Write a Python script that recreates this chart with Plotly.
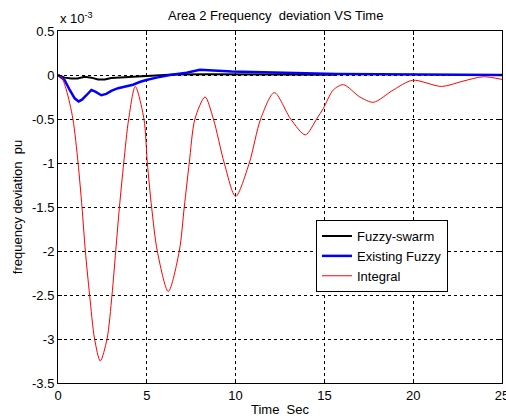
import plotly.graph_objects as go

# Time (s) and frequency deviation (x 1e-3 pu)
t_swarm = [0, 0.37, 0.75, 1.1, 1.5, 1.88, 2.25, 2.63, 3.0, 3.75, 4.43, 5.37, 6.5, 8.4, 10.25, 12.0, 15.7]
v_swarm = [0, -0.03, -0.04, -0.04, -0.02, -0.03, -0.05, -0.05, -0.035, -0.025, -0.02, -0.005, 0.005, 0.008, 0.005, 0.003, 0.002]

t_exist = [0, 0.37, 0.66, 0.94, 1.16, 1.35, 1.6, 1.88, 2.1, 2.44, 2.72, 3.0, 3.38, 3.75, 4.22, 4.6, 4.97,
           5.55, 6.3, 7.24, 7.99, 8.5, 9.78, 11.56, 13.6, 15.7, 25]
v_exist = [0, -0.057, -0.17, -0.265, -0.30, -0.28, -0.23, -0.17, -0.19, -0.23, -0.215, -0.18, -0.15, -0.13,
           -0.11, -0.08, -0.057, -0.03, 0.0, 0.025, 0.06, 0.055, 0.04, 0.03, 0.02, 0.01, 0.0]

t_int = [0, 0.19, 0.47, 0.84, 1.13, 1.35, 1.54, 1.78, 2.06, 2.38, 2.76, 3.04, 3.25, 3.46, 3.70, 3.98, 4.35,
         4.84, 5.03, 5.27, 5.59, 6.21, 6.83, 7.11, 7.39, 7.71, 8.28, 8.75, 9.36, 10.0, 10.77, 11.41, 12.18,
         13.1, 13.93, 14.56, 14.94, 15.5, 16.07, 17.0, 17.76, 18.88, 19.97, 21.6, 22.8, 23.95, 25]
v_int = [0, -0.02, -0.17, -0.5, -1.0, -1.5, -2.0, -2.5, -3.0, -3.25, -3.0, -2.5, -2.0, -1.5, -1.0, -0.5, -0.13,
         -0.5, -1.0, -1.5, -2.0, -2.46, -2.0, -1.5, -1.0, -0.5, -0.25, -0.5, -1.0, -1.38, -1.0, -0.5, -0.2,
         -0.5, -0.68, -0.5, -0.38, -0.17, -0.11, -0.25, -0.31, -0.17, -0.06, -0.13, -0.07, -0.02, -0.05]

x_ticks = [0, 5, 10, 15, 20, 25]
y_ticks = [0.5, 0, -0.5, -1, -1.5, -2, -2.5, -3, -3.5]
y_tick_text = ["0.5", "0", "-0.5", "-1", "-1.5", "-2", "-2.5", "-3", "-3.5"]

FONT = "Liberation Sans, Arial, sans-serif"
FS = 13

fig = go.Figure()
fig.add_trace(go.Scatter(x=t_swarm, y=v_swarm, mode="lines", name="Fuzzy-swarm",
                         line=dict(color="black", width=2)))
fig.add_trace(go.Scatter(x=t_exist, y=v_exist, mode="lines", name="Existing Fuzzy",
                         line=dict(color="#0000FF", width=2.5)))
fig.add_trace(go.Scatter(x=t_int, y=v_int, mode="lines", name="Integral",
                         line=dict(color="#FF0000", width=1, shape="spline", smoothing=0.8)))

axis_common = dict(showline=True, linecolor="black", linewidth=1, mirror="ticks",
                   ticks="inside", ticklen=4, tickcolor="black", automargin=False,
                   ticklabeloverflow="allow",
                   showgrid=True, gridcolor="black", gridwidth=1, griddash="3px,3px",
                   zeroline=False, tickfont=dict(family=FONT, size=FS, color="black"))

fig.update_xaxes(range=[0, 25], tickvals=x_ticks, ticktext=[str(v) for v in x_ticks],
                 title=dict(text="Time  Sec", font=dict(family=FONT, size=FS, color="black"), standoff=3),
                 **axis_common)
fig.update_yaxes(range=[-3.5, 0.5], tickvals=y_ticks, ticktext=y_tick_text,
                 title=dict(text="frequency deviation  pu", font=dict(family=FONT, size=FS, color="black"), standoff=6),
                 **axis_common)

fig.update_layout(
    width=506, height=419,
    margin=dict(l=58, r=4, t=31, b=36),
    paper_bgcolor="white", plot_bgcolor="white",
    font=dict(family=FONT, size=FS, color="black"),
    title=dict(text="Area 2 Frequency  deviation VS Time", x=0.545, xanchor="center", y=0.962, yanchor="middle",
               font=dict(family=FONT, size=FS, color="black")),
    showlegend=True,
    legend=dict(x=0.581, y=0.463, xanchor="left", yanchor="top", bgcolor="white",
                bordercolor="black", borderwidth=1, font=dict(family=FONT, size=FS, color="black"),
                tracegroupgap=0),
    annotations=[dict(text="x 10<sup>-3</sup>", xref="paper", yref="paper", x=0, y=1, xanchor="left",
                      yanchor="bottom", yshift=3, showarrow=False, font=dict(family=FONT, size=FS, color="black"))],
)

fig.write_html("out.html", config={"displayModeBar": False},
               post_script="document.body.style.margin='0';document.body.style.overflow='hidden';")
